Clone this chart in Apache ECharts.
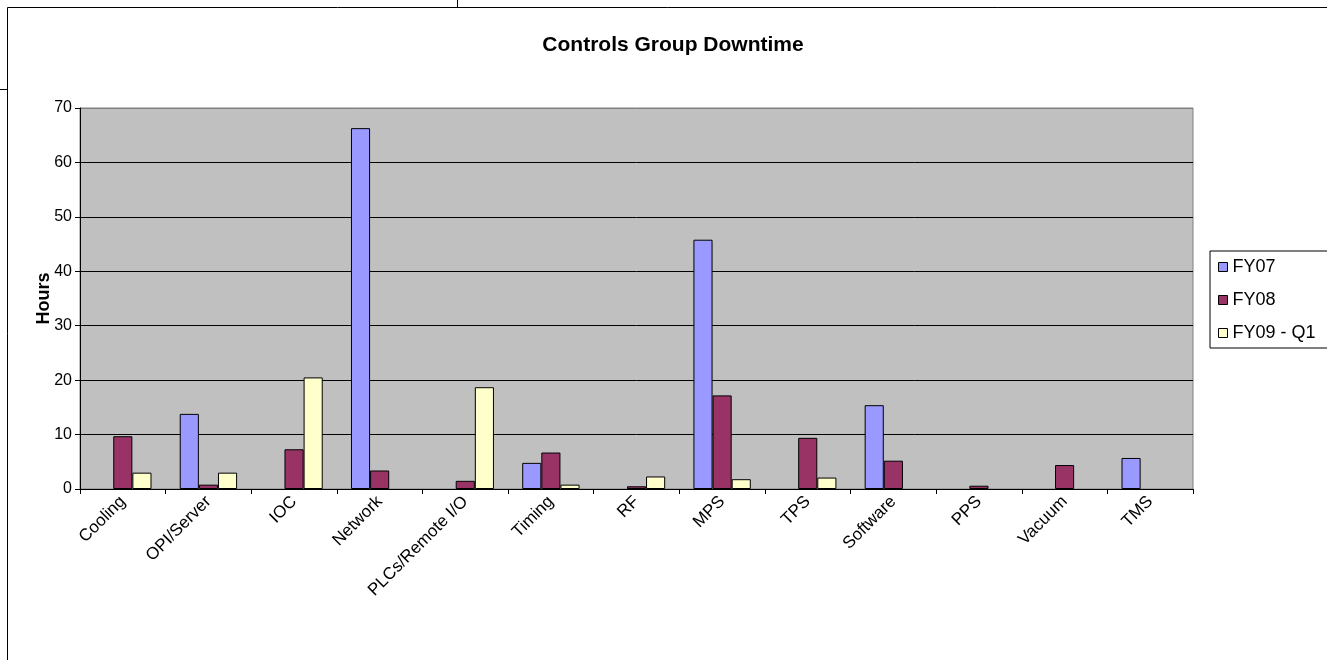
<!DOCTYPE html>
<html>
<head>
<meta charset="utf-8">
<script src="https://cdn.jsdelivr.net/npm/echarts@6/dist/echarts.min.js"></script>
<style>
  html, body { margin: 0; padding: 0; background: #fff; }
  #app { width: 1327px; height: 660px; }
</style>
</head>
<body>
<div id="app"></div>
<script>
const categories = ['Cooling', 'OPI/Server', 'IOC', 'Network', 'PLCs/Remote I/O', 'Timing', 'RF', 'MPS', 'TPS', 'Software', 'PPS', 'Vacuum', 'TMS'];
const fy07 = [0, 13.8, 0, 66.3, 0, 4.8, 0, 45.8, 0, 15.4, 0, 0, 5.7];
const fy08 = [9.7, 0.8, 7.3, 3.4, 1.5, 6.7, 0.5, 17.2, 9.4, 5.2, 0.6, 4.4, 0];
const fy09q1 = [3.0, 3.0, 20.5, 0, 18.7, 0.8, 2.3, 1.8, 2.1, 0, 0, 0, 0];
const yTicks = [0, 10, 20, 30, 40, 50, 60, 70];

const myChart = echarts.init(document.getElementById('app'));
const font = 'Liberation Sans, Arial, sans-serif';

// zero values are not drawn as bars in the original
const toBars = arr => arr.map(v => (v > 0 ? v : '-'));

const barSeries = (name, data, color) => ({
  name,
  type: 'bar',
  data: toBars(data),
  barGap: '0%',
  barCategoryGap: '33%',
  itemStyle: { color, borderColor: '#000', borderWidth: 1 },
  emphasis: { disabled: true },
});

const option = {
  animation: false,
  textStyle: { fontFamily: font },
  title: {
    text: 'Controls Group Downtime',
    left: 668,
    top: 30,
    textAlign: 'center',
    textStyle: { fontSize: 21, fontWeight: 'bold', color: '#000', fontFamily: font },
  },
  graphic: [
    { type: 'line', shape: { x1: 7.5, y1: 7.5, x2: 1327, y2: 7.5 }, style: { stroke: '#000', lineWidth: 1 } },
    { type: 'line', shape: { x1: 7.5, y1: 7.5, x2: 7.5, y2: 660 }, style: { stroke: '#000', lineWidth: 1 } },
    { type: 'line', shape: { x1: 0, y1: 89.5, x2: 7, y2: 89.5 }, style: { stroke: '#000', lineWidth: 1 } },
    { type: 'line', shape: { x1: 457.5, y1: 0, x2: 457.5, y2: 7 }, style: { stroke: '#000', lineWidth: 1 } },
  ],
  legend: {
    orient: 'vertical',
    left: 1210,
    top: 251,
    data: ['FY07', 'FY08', 'FY09 - Q1'],
    icon: 'rect',
    itemWidth: 9,
    itemHeight: 9,
    itemGap: 15,
    padding: [7, 40, 6, 8],
    borderColor: '#000',
    borderWidth: 1,
    textStyle: { fontSize: 18, color: '#000', fontFamily: font },
    itemStyle: { borderColor: '#000', borderWidth: 1 },
    selectedMode: false,
  },
  grid: {
    left: 80,
    right: 134,
    top: 108,
    bottom: 171,
    show: true,
    backgroundColor: '#C0C0C0',
    borderColor: '#808080',
    borderWidth: 1,
  },
  xAxis: {
    type: 'category',
    data: categories,
    axisLine: { lineStyle: { color: '#000', width: 1 } },
    axisTick: { show: true, length: 5, lineStyle: { color: '#000' } },
    axisLabel: { rotate: 45, fontSize: 17, color: '#000', margin: 10, fontFamily: font, interval: 0 },
  },
  yAxis: {
    type: 'value',
    min: yTicks[0],
    max: yTicks[yTicks.length - 1],
    interval: 10,
    name: 'Hours',
    nameLocation: 'middle',
    nameGap: 27,
    nameMoveOverlap: false,
    nameRotate: 90,
    nameTextStyle: { fontSize: 18, fontWeight: 'bold', color: '#000', fontFamily: font },
    axisLine: { show: true, lineStyle: { color: '#000', width: 1 } },
    axisTick: { show: true, length: 5, lineStyle: { color: '#000' } },
    axisLabel: { fontSize: 16, color: '#000', margin: 8, fontFamily: font },
    splitLine: {
      show: true,
      lineStyle: { color: ['#000', '#000', '#000', '#000', '#000', '#000', '#000', '#808080'], width: 1 },
    },
  },
  series: [
    barSeries('FY07', fy07, '#9999FF'),
    barSeries('FY08', fy08, '#993366'),
    barSeries('FY09 - Q1', fy09q1, '#FFFFCC'),
  ],
};

myChart.setOption(option);
</script>
</body>
</html>
